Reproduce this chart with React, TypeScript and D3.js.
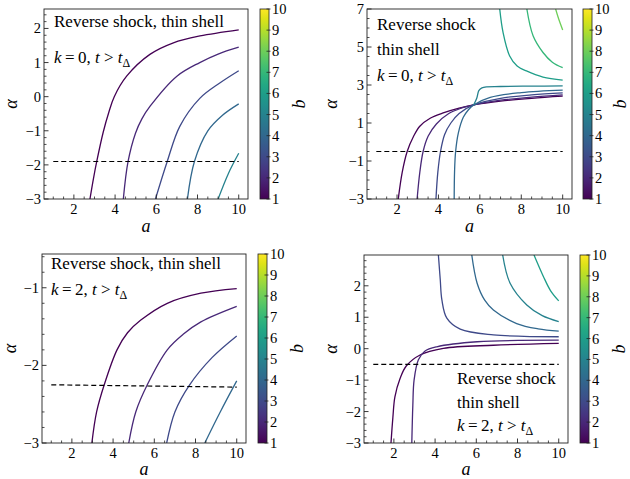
import React from 'react';
import * as d3 from 'd3';

type Pt = [number, number];
interface Curve { b: number; pts: Pt[] }

// shared axis values
const aDomain: [number, number] = [0.55, 10.45];
const aTicks = [2, 4, 6, 8, 10];
const bTicks = [1, 2, 3, 4, 5, 6, 7, 8, 9, 10];

// k = 0, t > tΔ (left panel)
const k0aAlphaTicks = [-3, -2, -1, 0, 1, 2];
const k0aCurves: Curve[] = [
  { b: 1, pts: [[2.78, -3], [2.95, -2.4], [3.11, -1.9], [3.42, -1.05], [3.7, -0.45], [3.96, 0], [4.56, 0.6], [5.69, 1.24], [6.83, 1.58], [8.12, 1.78], [10, 1.96]] },
  { b: 2, pts: [[4.4, -3], [4.63, -1.9], [4.99, -1.07], [5.3, -0.65], [5.7, -0.28], [7.0, 0.6], [8.11, 1.0], [9.0, 1.25], [10, 1.45]] },
  { b: 3, pts: [[5.96, -3], [6.53, -1.9], [7.14, -0.87], [8.11, -0.05], [9.08, 0.4], [10, 0.76]] },
  { b: 4, pts: [[7.51, -3], [7.85, -1.9], [8.5, -1.0], [9.2, -0.55], [10, -0.21]] },
  { b: 5, pts: [[9.0, -3], [9.5, -2.25], [10, -1.66]] },
];
const k0aDashed: Pt[] = [[1, -1.9], [10, -1.9]];

// k = 0, t > tΔ (right panel)
const k0bAlphaTicks = [-3, -1, 1, 3, 5, 7];
const k0bCurves: Curve[] = [
  { b: 1, pts: [[2.06, -3], [2.25, -1.6], [2.49, -0.5], [2.8, 0.3], [3.1, 0.83], [3.6, 1.25], [4.23, 1.53], [5.0, 1.78], [5.7, 1.95], [7, 2.15], [8.5, 2.3], [10, 2.41]] },
  { b: 2, pts: [[2.97, -3], [3.1, -1.6], [3.26, -0.5], [3.5, 0.3], [3.9, 0.95], [4.5, 1.5], [5.1, 1.78], [5.7, 1.95], [7, 2.2], [8.5, 2.36], [10, 2.48]] },
  { b: 3, pts: [[3.88, -3], [3.97, -1.6], [4.1, -0.5], [4.3, 0.4], [4.6, 1.0], [5.0, 1.5], [5.7, 1.95], [7, 2.3], [8.5, 2.48], [10, 2.59]] },
  { b: 4, pts: [[4.76, -3], [4.78, -1.5], [4.83, -0.5], [4.96, 0.47], [5.2, 1.3], [5.45, 1.7], [5.7, 1.95], [6.5, 2.35], [8, 2.6], [10, 2.73]] },
  { b: 5, pts: [[5.7, 1.95], [5.85, 2.3], [5.95, 2.7], [6.1, 2.85], [7, 2.92], [8.5, 2.94], [10, 2.95]] },
  { b: 6, pts: [[6.96, 7], [7.12, 5.77], [7.44, 4.53], [7.8, 4.0], [8.25, 3.74], [9.05, 3.42], [10, 3.26]] },
  { b: 7, pts: [[8.27, 7], [8.57, 5.59], [9.05, 4.71], [9.5, 4.2], [10, 3.91]] },
  { b: 8, pts: [[9.66, 7], [9.8, 6.5], [10, 5.9]] },
];
const k0bDashed: Pt[] = [[1, -0.5], [10, -0.5]];

// k = 2, t > tΔ (left panel)
const k2aAlphaTicks = [-3, -2, -1];
const k2aCurves: Curve[] = [
  { b: 1, pts: [[2.97, -3], [3.2, -2.6], [3.57, -2.25], [4.19, -1.8], [4.7, -1.58], [5.33, -1.42], [6.63, -1.2], [8.26, -1.07], [10, -1.01]] },
  { b: 2, pts: [[4.76, -3], [5.1, -2.6], [5.66, -2.25], [6.63, -1.8], [7.4, -1.6], [8.26, -1.44], [10, -1.24]] },
  { b: 3, pts: [[6.6, -3], [7.0, -2.6], [7.69, -2.26], [8.8, -1.9], [10, -1.62]] },
  { b: 4, pts: [[8.45, -3], [9.2, -2.6], [10, -2.2]] },
];
const k2aDashed: Pt[] = [[1, -2.25], [10, -2.28]];

// k = 2, t > tΔ (right panel)
const k2bAlphaTicks = [-3, -2, -1, 0, 1, 2];
const k2bCurves: Curve[] = [
  { b: 1, pts: [[1.86, -3], [1.95, -2.2], [2.05, -1.53], [2.3, -0.95], [2.6, -0.55], [3.27, -0.2], [4.4, 0.01], [6.83, 0.11], [10, 0.17]] },
  { b: 2, pts: [[2.87, -3], [2.92, -1.8], [2.98, -1.0], [3.19, -0.35], [3.5, -0.08], [4.08, 0.06], [6.04, 0.22], [10, 0.27]] },
  { b: 3, pts: [[4.16, 2.98], [4.25, 2.2], [4.33, 1.55], [4.57, 0.97], [5.22, 0.62], [6.83, 0.44], [10, 0.38]] },
  { b: 4, pts: [[5.78, 2.98], [6.04, 2.08], [6.4, 1.55], [6.83, 1.23], [7.96, 0.8], [9, 0.63], [10, 0.56]] },
  { b: 5, pts: [[7.28, 2.98], [7.64, 2.08], [8.45, 1.39], [9.2, 1.05], [10, 0.86]] },
  { b: 6, pts: [[8.8, 2.98], [9.26, 2.29], [9.6, 1.85], [10, 1.52]] },
];
const k2bDashed: Pt[] = [[1, -0.5], [10, -0.5]];

const FONT = 'Liberation Serif, Times New Roman, serif';
const color = (b: number) => d3.interpolateViridis((b - 1) / 9);

type Line = { text: string } | { k: string };
interface PanelCfg {
  id: string;
  left: number; right: number; top: number; bottom: number;
  yDomain: [number, number];
  yTicks: number[];
  yMinor: number;
  curves: Curve[];
  dashed: Pt[];
  cbarX: number;
  yLabelX: number;
  cbarLabelX: number;
  xLabelY: number;
  textX: number;
  textY: number[];
  lines: Line[];
}

const fmt = (v: number) => (v < 0 ? '\u2212' + Math.abs(v) : String(v));

function MathLine({ k }: { k: string }) {
  return (
    <>
      <tspan fontStyle="italic">k</tspan>
      <tspan>{'\u2009=\u2009' + k + ', '}</tspan>
      <tspan fontStyle="italic">t</tspan>
      <tspan>{' > '}</tspan>
      <tspan fontStyle="italic">t</tspan>
      <tspan fontSize={12} dy={4}>Δ</tspan>
    </>
  );
}

function Panel({ c }: { c: PanelCfg }) {
  const x = d3.scaleLinear().domain(aDomain).range([c.left, c.right]);
  const y = d3.scaleLinear().domain(c.yDomain).range([c.bottom, c.top]);
  const line = d3.line<Pt>().x(d => x(d[0])).y(d => y(d[1])).curve(d3.curveCatmullRom.alpha(0.5));
  const xMinor = d3.range(1, 10.45, 0.5).filter(v => v >= aDomain[0] && !aTicks.includes(v));
  const yMinor = d3
    .range(Math.ceil(c.yDomain[0] / c.yMinor) * c.yMinor, c.yDomain[1] + 1e-9, c.yMinor)
    .map(v => Math.round(v * 1000) / 1000)
    .filter(v => !c.yTicks.some(t => Math.abs(t - v) < 1e-6));
  const cb = d3.scaleLinear().domain([1, 10]).range([c.bottom, c.top]);
  const cbW = 9;
  const midY = (c.top + c.bottom) / 2;
  return (
    <g>
      <defs>
        <clipPath id={'clip-' + c.id}>
          <rect x={c.left} y={c.top} width={c.right - c.left} height={c.bottom - c.top} />
        </clipPath>
        <linearGradient id={'grad-' + c.id} x1="0" y1="1" x2="0" y2="0">
          {d3.range(0, 1.0001, 0.05).map(t => (
            <stop key={t} offset={t} stopColor={d3.interpolateViridis(t)} />
          ))}
        </linearGradient>
      </defs>
      <g clipPath={`url(#clip-${c.id})`}>
        {c.curves.map(cv => (
          <path key={cv.b} d={line(cv.pts) || ''} fill="none" stroke={color(cv.b)} strokeWidth={1.3} />
        ))}
        <path d={d3.line<Pt>().x(d => x(d[0])).y(d => y(d[1]))(c.dashed) || ''} fill="none" stroke="#000" strokeWidth={1.2} strokeDasharray="5,3" />
      </g>
      <rect x={c.left} y={c.top} width={c.right - c.left} height={c.bottom - c.top} fill="none" stroke="#222" strokeWidth={0.9} />
      {aTicks.map(t => (
        <g key={'xt' + t}>
          <line x1={x(t)} x2={x(t)} y1={c.bottom} y2={c.bottom - 4.5} stroke="#222" strokeWidth={0.9} />
          <text x={x(t)} y={c.bottom + 15} textAnchor="middle" fontSize={14.5} fontFamily={FONT}>{fmt(t)}</text>
        </g>
      ))}
      {xMinor.map(t => (
        <line key={'xm' + t} x1={x(t)} x2={x(t)} y1={c.bottom} y2={c.bottom - 2.5} stroke="#222" strokeWidth={0.8} />
      ))}
      {c.yTicks.map(t => (
        <g key={'yt' + t}>
          <line x1={c.left} x2={c.left + 4.5} y1={y(t)} y2={y(t)} stroke="#222" strokeWidth={0.9} />
          <text x={c.left - 3} y={y(t) + 5} textAnchor="end" fontSize={14.5} fontFamily={FONT}>{fmt(t)}</text>
        </g>
      ))}
      {yMinor.map(t => (
        <line key={'ym' + t} x1={c.left} x2={c.left + 2.5} y1={y(t)} y2={y(t)} stroke="#222" strokeWidth={0.8} />
      ))}
      <text x={(c.left + c.right) / 2} y={c.xLabelY} textAnchor="middle" fontSize={18} fontStyle="italic" fontFamily={FONT}>a</text>
      <text transform={`translate(${c.yLabelX + 5},${midY}) rotate(-90)`} textAnchor="middle" fontSize={18} fontStyle="italic" fontFamily={FONT}>α</text>
      {c.lines.map((l, i) => (
        <text key={'ann' + i} x={c.textX} y={c.textY[i]} fontSize={17} fontFamily={FONT}>
          {'text' in l ? l.text : <MathLine k={l.k} />}
        </text>
      ))}
      <rect x={c.cbarX} y={c.top} width={cbW} height={c.bottom - c.top} fill={`url(#grad-${c.id})`} stroke="#222" strokeWidth={0.8} />
      {bTicks.map(t => (
        <g key={'cb' + t}>
          <line x1={c.cbarX + cbW - 2.5} x2={c.cbarX + cbW + 1.5} y1={cb(t)} y2={cb(t)} stroke="#222" strokeWidth={0.8} />
          <text x={c.cbarX + cbW + 3} y={cb(t) + 5} fontSize={14.5} fontFamily={FONT}>{t}</text>
        </g>
      ))}
      <text transform={`translate(${c.cbarLabelX + 5},${midY}) rotate(-90)`} textAnchor="middle" fontSize={18} fontStyle="italic" fontFamily={FONT}>b</text>
    </g>
  );
}

const panels: PanelCfg[] = [
  {
    id: 'k0a', left: 44, right: 248, top: 9, bottom: 199,
    yDomain: [-3, 2.57], yTicks: k0aAlphaTicks, yMinor: 0.2, curves: k0aCurves, dashed: k0aDashed,
    cbarX: 260, yLabelX: 12, cbarLabelX: 300, xLabelY: 232,
    textX: 54, textY: [27, 63], lines: [{ text: 'Reverse shock, thin shell' }, { k: '0' }],
  },
  {
    id: 'k0b', left: 367, right: 572, top: 9, bottom: 199,
    yDomain: [-3, 7], yTicks: k0bAlphaTicks, yMinor: 0.5, curves: k0bCurves, dashed: k0bDashed,
    cbarX: 583, yLabelX: 332, cbarLabelX: 621, xLabelY: 232,
    textX: 377, textY: [30, 55, 81], lines: [{ text: 'Reverse shock' }, { text: 'thin shell' }, { k: '0' }],
  },
  {
    id: 'k2a', left: 42, right: 246, top: 254, bottom: 443,
    yDomain: [-3, -0.565], yTicks: k2aAlphaTicks, yMinor: 0.2, curves: k2aCurves, dashed: k2aDashed,
    cbarX: 258, yLabelX: 11, cbarLabelX: 298, xLabelY: 475,
    textX: 51, textY: [269, 295], lines: [{ text: 'Reverse shock, thin shell' }, { k: '2' }],
  },
  {
    id: 'k2b', left: 364, right: 568, top: 255, bottom: 443,
    yDomain: [-3, 2.98], yTicks: k2bAlphaTicks, yMinor: 0.2, curves: k2bCurves, dashed: k2bDashed,
    cbarX: 580, yLabelX: 332, cbarLabelX: 620, xLabelY: 475,
    textX: 457, textY: [384, 408, 431], lines: [{ text: 'Reverse shock' }, { text: 'thin shell' }, { k: '2' }],
  },
];

export default function App() {
  return (
    <svg width={630} height={479} style={{ position: 'absolute', left: 0, top: 0, background: '#fff' }}>
      <rect width={630} height={479} fill="#fff" />
      {panels.map(p => <Panel key={p.id} c={p} />)}
    </svg>
  );
}
